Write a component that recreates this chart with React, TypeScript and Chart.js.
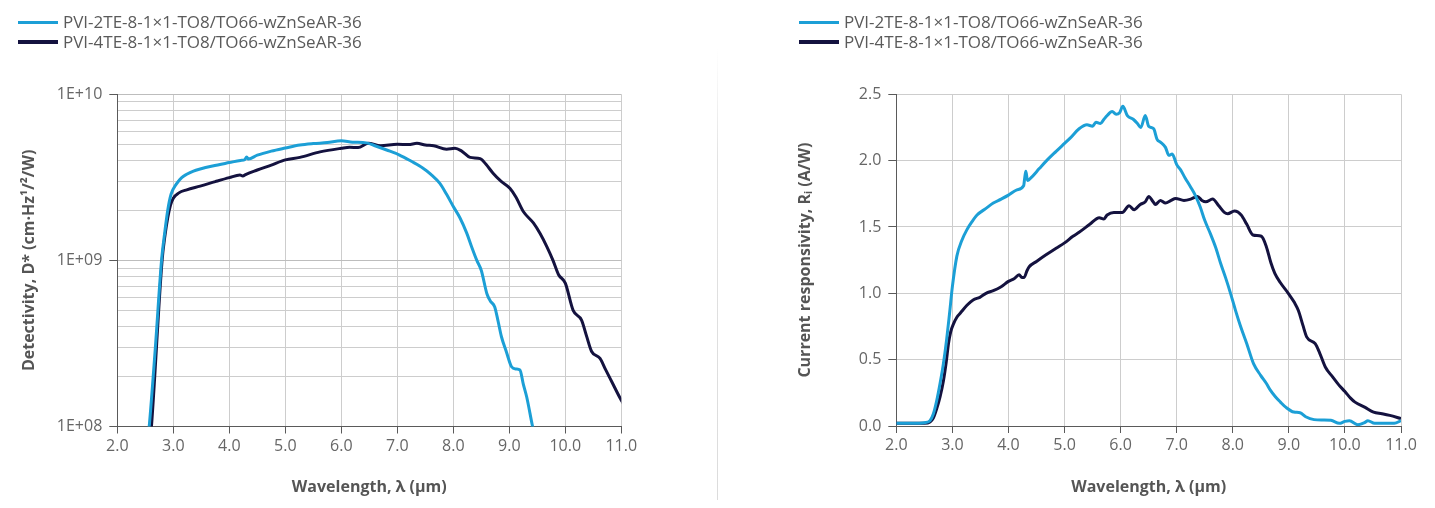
import React, { useEffect, useRef } from 'react';
import { Chart, registerables } from 'chart.js';

Chart.register(...registerables);

// ---------- data ----------
const SERIES_NAMES = ['PVI-2TE-8-1×1-TO8/TO66-wZnSeAR-36', 'PVI-4TE-8-1×1-TO8/TO66-wZnSeAR-36'];
const SERIES_COLORS = ['#1c9fd6', '#14123f'];

const X_TICKS = [2, 3, 4, 5, 6, 7, 8, 9, 10, 11];
const LOG_TICKS = [
  1e8, 2e8, 3e8, 4e8, 5e8, 6e8, 7e8, 8e8, 9e8,
  1e9, 2e9, 3e9, 4e9, 5e9, 6e9, 7e9, 8e9, 9e9, 1e10,
];
const RESP_TICKS = [0, 0.5, 1.0, 1.5, 2.0, 2.5];

// Detectivity, PVI-2TE
const detWl2TE = [2.50, 2.57, 2.68, 2.79, 2.85, 2.90, 2.96, 3.06, 3.15, 3.24, 3.36, 3.48, 3.70, 4.00, 4.20, 4.28, 4.31, 4.34, 4.50, 4.75, 5.00, 5.26, 5.50, 5.75, 6.00, 6.20, 6.45, 6.60, 6.81, 7.04, 7.25, 7.46, 7.60, 7.76, 7.88, 8.00, 8.12, 8.24, 8.33, 8.42, 8.50, 8.60, 8.66, 8.74, 8.80, 8.86, 8.95, 9.04, 9.12, 9.19, 9.25, 9.31, 9.41, 9.46];
const det2TE = [6e7, 1.0e8, 3.0e8, 1.0e9, 1.5e9, 2.0e9, 2.5e9, 2.9e9, 3.15e9, 3.3e9, 3.45e9, 3.55e9, 3.7e9, 3.88e9, 4.0e9, 4.05e9, 4.2e9, 4.08e9, 4.3e9, 4.55e9, 4.75e9, 4.95e9, 5.05e9, 5.12e9, 5.25e9, 5.15e9, 5.1e9, 4.9e9, 4.62e9, 4.31e9, 3.95e9, 3.59e9, 3.3e9, 2.91e9, 2.5e9, 2.11e9, 1.8e9, 1.46e9, 1.2e9, 1.0e9, 8.7e8, 6.3e8, 5.7e8, 5.25e8, 4.3e8, 3.47e8, 2.8e8, 2.29e8, 2.22e8, 2.19e8, 1.8e8, 1.51e8, 1.02e8, 8.5e7];

// Detectivity, PVI-4TE
const detWl4TE = [2.55, 2.61, 2.80, 2.85, 2.90, 2.95, 3.00, 3.10, 3.24, 3.48, 3.75, 4.00, 4.19, 4.24, 4.30, 4.50, 4.75, 5.00, 5.26, 5.62, 6.00, 6.15, 6.30, 6.48, 6.70, 7.00, 7.20, 7.35, 7.50, 7.65, 7.88, 8.03, 8.15, 8.30, 8.48, 8.58, 8.71, 8.85, 9.01, 9.12, 9.25, 9.43, 9.55, 9.67, 9.78, 9.88, 10.00, 10.14, 10.29, 10.38, 10.47, 10.62, 10.72, 10.83, 10.98, 11.05];
const det4TE = [6e7, 1.0e8, 1.0e9, 1.4e9, 1.8e9, 2.15e9, 2.37e9, 2.55e9, 2.66e9, 2.8e9, 2.98e9, 3.15e9, 3.27e9, 3.22e9, 3.3e9, 3.5e9, 3.75e9, 4.03e9, 4.17e9, 4.5e9, 4.73e9, 4.8e9, 4.78e9, 5.07e9, 4.9e9, 5.0e9, 4.98e9, 5.07e9, 4.95e9, 4.9e9, 4.67e9, 4.73e9, 4.55e9, 4.17e9, 4.1e9, 3.8e9, 3.35e9, 3.0e9, 2.72e9, 2.4e9, 1.97e9, 1.68e9, 1.45e9, 1.21e9, 1.0e9, 8.2e8, 7.3e8, 5.0e8, 4.37e8, 3.5e8, 2.83e8, 2.57e8, 2.2e8, 1.86e8, 1.48e8, 1.35e8];

// Current responsivity, PVI-2TE
const respWl2TE = [2.0, 2.3, 2.5, 2.6, 2.66, 2.72, 2.78, 2.84, 2.90, 2.95, 3.00, 3.08, 3.17, 3.26, 3.35, 3.44, 3.60, 3.73, 3.87, 4.00, 4.15, 4.27, 4.29, 4.31, 4.34, 4.40, 4.55, 4.68, 4.85, 5.00, 5.10, 5.26, 5.40, 5.50, 5.56, 5.64, 5.70, 5.76, 5.85, 5.92, 5.98, 6.04, 6.12, 6.23, 6.30, 6.36, 6.44, 6.50, 6.59, 6.65, 6.71, 6.80, 6.86, 6.92, 7.00, 7.07, 7.15, 7.25, 7.33, 7.42, 7.50, 7.60, 7.70, 7.78, 7.87, 7.96, 8.05, 8.14, 8.25, 8.37, 8.50, 8.60, 8.67, 8.76, 8.85, 8.95, 9.09, 9.20, 9.30, 9.45, 9.60, 9.75, 9.90, 10.00, 10.08, 10.23, 10.35, 10.41, 10.53, 10.70, 10.88, 11.0];
const resp2TE = [0.02, 0.02, 0.025, 0.04, 0.09, 0.19, 0.32, 0.47, 0.66, 0.85, 1.05, 1.28, 1.40, 1.48, 1.54, 1.59, 1.64, 1.68, 1.71, 1.74, 1.78, 1.81, 1.87, 1.92, 1.85, 1.87, 1.94, 2.00, 2.07, 2.13, 2.17, 2.24, 2.27, 2.26, 2.29, 2.28, 2.31, 2.34, 2.37, 2.35, 2.36, 2.41, 2.34, 2.31, 2.28, 2.25, 2.34, 2.26, 2.24, 2.16, 2.14, 2.10, 2.04, 2.05, 1.97, 1.93, 1.87, 1.80, 1.74, 1.65, 1.55, 1.45, 1.34, 1.23, 1.12, 1.00, 0.87, 0.75, 0.62, 0.47, 0.38, 0.32, 0.27, 0.22, 0.18, 0.14, 0.105, 0.10, 0.07, 0.048, 0.045, 0.043, 0.02, 0.035, 0.04, 0.01, 0.025, 0.04, 0.02, 0.02, 0.02, 0.04];

// Current responsivity, PVI-4TE
const respWl4TE = [2.0, 2.3, 2.5, 2.6, 2.66, 2.72, 2.78, 2.84, 2.89, 2.93, 2.97, 3.02, 3.08, 3.14, 3.26, 3.37, 3.49, 3.60, 3.73, 3.87, 4.00, 4.10, 4.19, 4.24, 4.28, 4.33, 4.37, 4.50, 4.67, 4.85, 5.00, 5.15, 5.26, 5.45, 5.62, 5.70, 5.76, 5.88, 6.03, 6.15, 6.24, 6.35, 6.44, 6.50, 6.58, 6.62, 6.71, 6.80, 6.90, 6.98, 7.13, 7.25, 7.37, 7.45, 7.52, 7.64, 7.75, 7.85, 7.91, 8.03, 8.15, 8.25, 8.36, 8.51, 8.60, 8.68, 8.75, 8.85, 8.99, 9.10, 9.17, 9.25, 9.32, 9.47, 9.55, 9.65, 9.78, 9.89, 10.00, 10.10, 10.18, 10.36, 10.51, 10.66, 10.80, 11.0];
const resp4TE = [0.02, 0.02, 0.02, 0.03, 0.06, 0.13, 0.22, 0.34, 0.48, 0.62, 0.71, 0.77, 0.82, 0.85, 0.91, 0.95, 0.97, 1.00, 1.02, 1.05, 1.09, 1.11, 1.14, 1.12, 1.12, 1.17, 1.20, 1.24, 1.29, 1.34, 1.38, 1.43, 1.46, 1.52, 1.57, 1.56, 1.59, 1.61, 1.61, 1.66, 1.63, 1.67, 1.69, 1.73, 1.69, 1.67, 1.70, 1.68, 1.70, 1.715, 1.70, 1.71, 1.73, 1.70, 1.69, 1.71, 1.66, 1.61, 1.60, 1.62, 1.59, 1.52, 1.44, 1.43, 1.35, 1.23, 1.15, 1.08, 1.00, 0.93, 0.87, 0.76, 0.67, 0.62, 0.55, 0.445, 0.37, 0.31, 0.26, 0.21, 0.18, 0.14, 0.105, 0.093, 0.08, 0.056];

const X_TITLE = 'Wavelength, λ (µm)';
const DET_TITLE = 'Detectivity, D* (cm·Hz¹/²/W)';
const RESP_TITLE = 'Current responsivity, Rᵢ (A/W)';

// ---------- styling ----------
const FONT = "'Open Sans', 'Noto Sans', sans-serif";
const TICK_COLOR = '#666666';
const TITLE_COLOR = '#555555';
const AXIS_COLOR = '#5a5a5a';
const GRID_COLOR = '#cdcdcd';

const toPoints = (xs: number[], ys: number[]) => xs.map((x, i) => ({ x, y: ys[i] }));

const lineDataset = (label: string, color: string, xs: number[], ys: number[]) => ({
  label,
  data: toPoints(xs, ys),
  borderColor: color,
  backgroundColor: color,
  borderWidth: 3,
  pointRadius: 0,
  cubicInterpolationMode: 'monotone' as const,
  fill: false,
});

const isDecade = (v: number) => Math.abs(Math.log10(v) - Math.round(Math.log10(v))) < 1e-9;

function xScale(plotBottomLocal: number, canvasH: number) {
  return {
    type: 'linear' as const,
    min: 2,
    max: 11,
    afterBuildTicks: (scale: any) => {
      scale.ticks = X_TICKS.map((v) => ({ value: v }));
    },
    afterFit: (scale: any) => {
      scale.height = canvasH - plotBottomLocal;
    },
    ticks: {
      autoSkip: false,
      maxRotation: 0,
      padding: 3,
      color: TICK_COLOR,
      font: { family: FONT, size: 16 },
      callback: (v: any) => Number(v).toFixed(1),
    },
    grid: {
      color: GRID_COLOR,
      lineWidth: 1,
      tickLength: 7,
      tickColor: AXIS_COLOR,
    },
    border: { display: true, color: AXIS_COLOR, width: 1 },
    title: {
      display: true,
      text: X_TITLE,
      color: TITLE_COLOR,
      font: { family: FONT, size: 16, weight: 'bold' as const },
      padding: { top: 0, bottom: 3 },
    },
  };
}

function DetectivityChart() {
  const ref = useRef<HTMLCanvasElement>(null);
  useEffect(() => {
    if (!ref.current) return;
    const W = 700, H = 492;
    const chart = new Chart(ref.current, {
      type: 'line',
      data: {
        datasets: [
          lineDataset(SERIES_NAMES[0], SERIES_COLORS[0], detWl2TE, det2TE),
          lineDataset(SERIES_NAMES[1], SERIES_COLORS[1], detWl4TE, det4TE),
        ],
      },
      options: {
        animation: false,
        responsive: false,
        maintainAspectRatio: false,
        layout: { padding: { left: 0, top: 86.3, right: W - 613.3, bottom: 0 } },
        plugins: { legend: { display: false }, tooltip: { enabled: false } },
        scales: {
          x: xScale(418.5, H),
          y: {
            type: 'logarithmic',
            min: 1e8,
            max: 1e10,
            afterBuildTicks: (scale: any) => {
              scale.ticks = LOG_TICKS.map((v) => ({ value: v, major: isDecade(v) }));
            },
            afterFit: (scale: any) => {
              scale.width = 109.3;
            },
            ticks: {
              autoSkip: false,
              padding: 7,
              color: TICK_COLOR,
              font: { family: FONT, size: 16 },
              callback: (v: any) =>
                isDecade(Number(v)) ? '1E+' + String(Math.round(Math.log10(Number(v)))).padStart(2, '0') : '',
            },
            grid: {
              color: (ctx: any) => (ctx.tick && isDecade(ctx.tick.value) ? '#bdbdbd' : GRID_COLOR),
              lineWidth: 1,
              tickLength: 8,
              tickColor: (ctx: any) => (ctx.tick && isDecade(ctx.tick.value) ? AXIS_COLOR : 'rgba(0,0,0,0)'),
            },
            border: { display: true, color: AXIS_COLOR, width: 1 },
            title: {
              display: true,
              text: DET_TITLE,
              color: TITLE_COLOR,
              font: { family: FONT, size: 16, weight: 'bold' },
              padding: { top: 12, bottom: 0 },
            },
          },
        },
      },
    } as any);
    return () => chart.destroy();
  }, []);
  return <canvas ref={ref} width={700} height={492} style={{ position: 'absolute', left: 0, top: 0, width: 700, height: 492 }} />;
}

function ResponsivityChart() {
  const ref = useRef<HTMLCanvasElement>(null);
  useEffect(() => {
    if (!ref.current) return;
    const W = 709, H = 492;
    const chart = new Chart(ref.current, {
      type: 'line',
      data: {
        datasets: [
          lineDataset(SERIES_NAMES[0], SERIES_COLORS[0], respWl2TE, resp2TE),
          lineDataset(SERIES_NAMES[1], SERIES_COLORS[1], respWl4TE, resp4TE),
        ],
      },
      options: {
        animation: false,
        responsive: false,
        maintainAspectRatio: false,
        layout: { padding: { left: 68, top: 86.3, right: W - 683, bottom: 0 } },
        plugins: { legend: { display: false }, tooltip: { enabled: false } },
        scales: {
          x: xScale(418, H),
          y: {
            type: 'linear',
            min: 0,
            max: 2.5,
            afterBuildTicks: (scale: any) => {
              scale.ticks = RESP_TICKS.map((v) => ({ value: v }));
            },
            afterFit: (scale: any) => {
              scale.width = 110.3;
            },
            ticks: {
              autoSkip: false,
              padding: 7,
              color: TICK_COLOR,
              font: { family: FONT, size: 16 },
              callback: (v: any) => Number(v).toFixed(1),
            },
            grid: {
              color: GRID_COLOR,
              lineWidth: 1,
              tickLength: 8,
              tickColor: AXIS_COLOR,
            },
            border: { display: true, color: AXIS_COLOR, width: 1 },
            title: {
              display: true,
              text: RESP_TITLE,
              color: TITLE_COLOR,
              font: { family: FONT, size: 16, weight: 'bold' },
              padding: { top: 9.4, bottom: 0 },
            },
          },
        },
      },
    } as any);
    return () => chart.destroy();
  }, []);
  return <canvas ref={ref} width={709} height={492} style={{ position: 'absolute', left: 710, top: 0, width: 709, height: 492 }} />;
}

function Legend({ left }: { left: number }) {
  return (
    <div style={{ position: 'absolute', left, top: 4, fontFamily: FONT, fontSize: 17, color: '#5a5a5a', lineHeight: '20px' }}>
      {SERIES_NAMES.map((name, i) => (
        <div key={name} style={{ display: 'flex', alignItems: 'center', height: 20 }}>
          <div style={{ width: 40, height: i === 0 ? 3 : 4, background: SERIES_COLORS[i], marginRight: 5 }} />
          <span style={{ whiteSpace: 'nowrap' }}>{name}</span>
        </div>
      ))}
    </div>
  );
}

export default function App() {
  return (
    <div style={{ position: 'relative', width: 1419, height: 492, background: '#fff', overflow: 'hidden' }}>
      <DetectivityChart />
      <ResponsivityChart />
      <div
        style={{
          position: 'absolute',
          left: 709,
          top: 40,
          width: 1,
          height: 452,
          background: 'linear-gradient(to bottom, rgba(225,225,225,0), #e2e2e2 25%, #dcdcdc)',
        }}
      />
      <Legend left={10} />
      <Legend left={791} />
    </div>
  );
}
